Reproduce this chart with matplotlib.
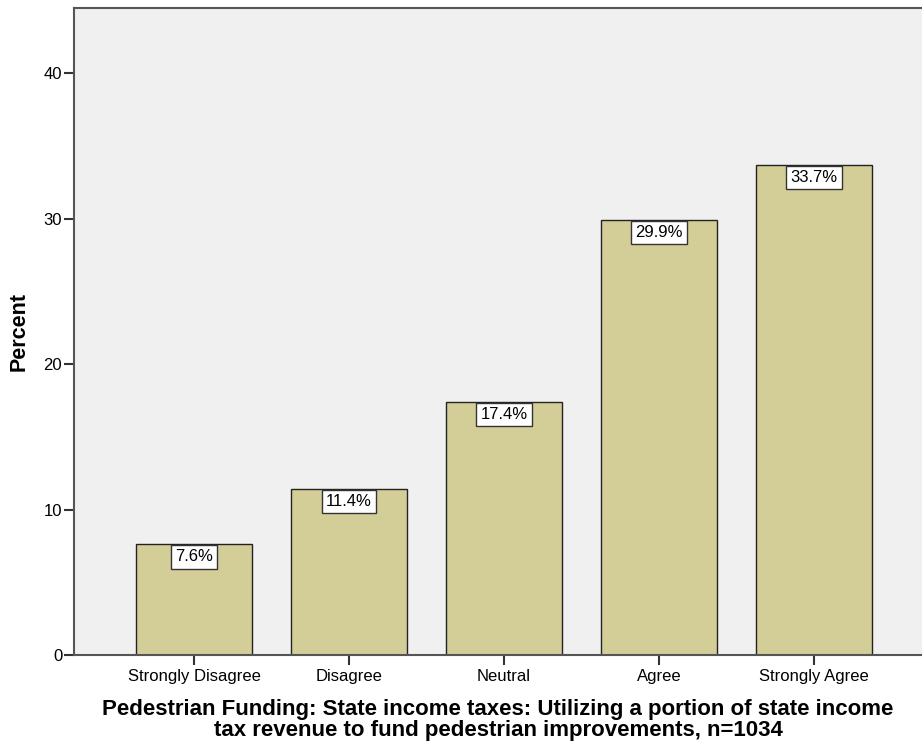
import matplotlib
matplotlib.use("Agg")
import matplotlib.pyplot as plt

plt.rcParams['font.family'] = ['Liberation Sans', 'DejaVu Sans']

categories = ["Strongly Disagree", "Disagree", "Neutral", "Agree", "Strongly Agree"]
percents = [7.6, 11.4, 17.4, 29.9, 33.7]
yticks = [0, 10, 20, 30, 40]

fig = plt.figure(figsize=(9.22, 7.49), dpi=100)
ax = fig.add_axes([0.0803, 0.1255, 0.9197, 0.8638])
ax.set_facecolor("#f0f0f0")

x = list(range(len(categories)))
ax.bar(x, percents, width=0.75, color="#d3ce97", edgecolor="#222222", linewidth=1.0, zorder=2)

for xi, p in zip(x, percents):
    ax.annotate("%.1f%%" % p, (xi, p), xytext=(0, -3.6), textcoords="offset points",
                ha="center", va="top", fontsize=12, zorder=3,
                bbox=dict(boxstyle="square,pad=0.25", fc="white", ec="#333333", lw=1.0))

ax.set_xlim(-0.774, 4.697)
ax.set_ylim(0, 44.47)
ax.set_xticks(x)
ax.set_xticklabels(categories, fontsize=12)
ax.set_yticks(yticks)
ax.tick_params(axis="y", labelsize=12, length=7, width=1.5, color="#333333", pad=1.5)
ax.tick_params(axis="x", length=7, width=1.5, color="#333333", pad=3)

for s in ["left", "top", "bottom"]:
    ax.spines[s].set_color("#555555")
    ax.spines[s].set_linewidth(1.5)
ax.spines["right"].set_visible(False)

ax.set_ylabel("Percent", fontsize=15.5, fontweight="bold", labelpad=10)
ax.set_xlabel("Pedestrian Funding: State income taxes: Utilizing a portion of state income\n"
              "tax revenue to fund pedestrian improvements, n=1034",
              fontsize=16, fontweight="bold", labelpad=11, linespacing=1.0)

fig.savefig("out.png", dpi=100)
